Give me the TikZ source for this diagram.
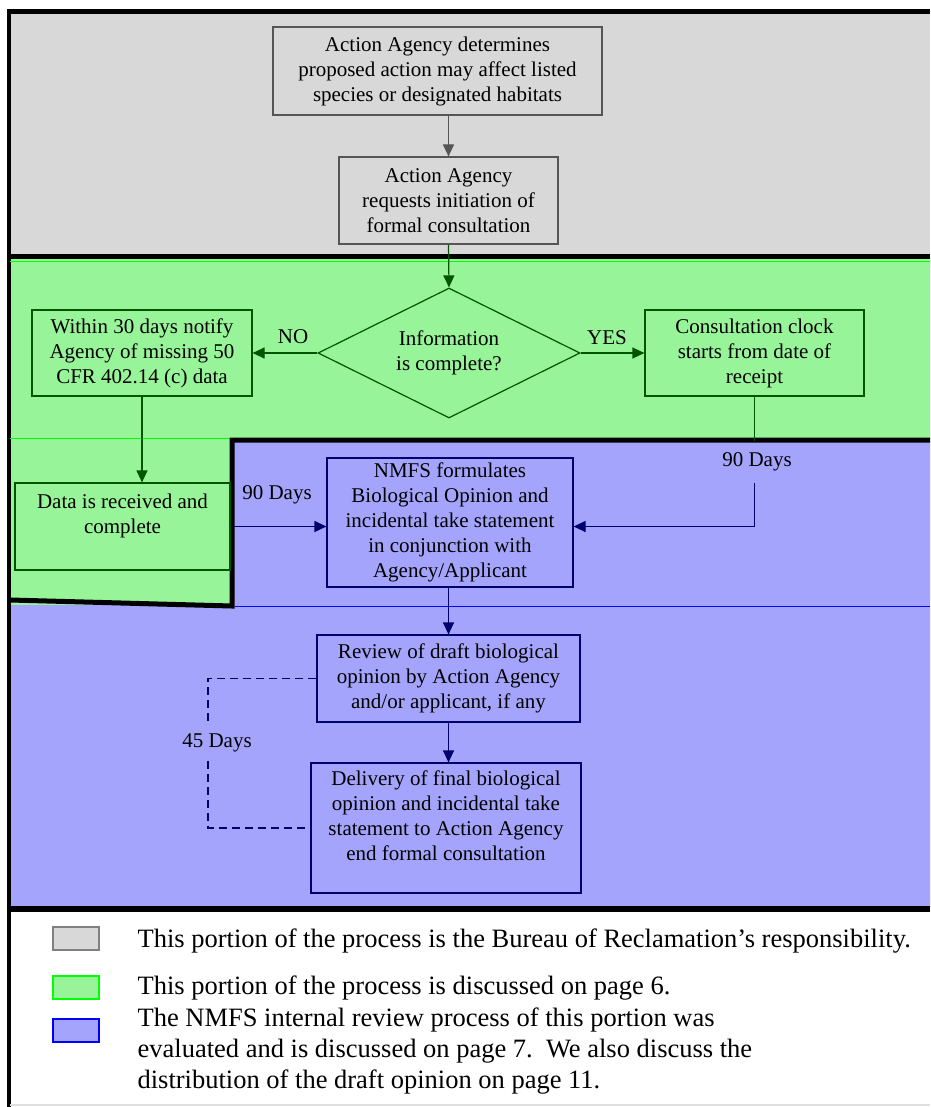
\documentclass[tikz,border=0pt]{standalone}
\usepackage{fontspec}
\setmainfont{Liberation Serif}
\usetikzlibrary{shapes.geometric,arrows.meta}
\definecolor{regray}{RGB}{216,216,216}
\definecolor{regreen}{RGB}{152,244,152}
\definecolor{reblue}{RGB}{164,164,252}
\definecolor{dkgreen}{RGB}{0,85,0}
\definecolor{dkblue}{RGB}{0,0,110}
\definecolor{dkgray}{RGB}{85,85,85}
\begin{document}
\begin{tikzpicture}[x=1pt,y=-1pt,>={Triangle[length=12pt,width=11pt]},line width=1.2pt,
  box/.style={draw,align=center,inner sep=0pt,font=\fontsize{21}{25}\selectfont},
  lbl/.style={inner sep=0pt,font=\fontsize{21}{25}\selectfont},
  leg/.style={anchor=west,align=left,inner sep=0pt,font=\fontsize{26.5}{31}\selectfont}]
	\useasboundingbox (0,0) rectangle (930,1107);
	\fill[regray] (10,12) rectangle (930,256);
	\fill[regreen] (10,256) rectangle (930,440) (10,440) rectangle (232,605);
	\fill[reblue] (232,440) rectangle (930,607) (10,605) rectangle (930,908);
	\draw[line width=5pt] (7,12)--(930,12) (10,256)--(930,256);
	\draw[line width=4pt] (9,10)--(9,1107);
	\draw[green,line width=1pt] (10,261)--(930,261) (10,438)--(230,438);
	\draw[line width=5pt] (10,600)--(232,606)--(232,440)--(930,440);
	\draw[blue,line width=1pt] (235,606)--(930,606);
	\draw[line width=6pt] (10,909)--(930,909);
	\draw[black!12,line width=1.5pt] (10,1105)--(930,1105);
	% boxes
	\node[box,draw=dkgray,minimum width=329pt,minimum height=88pt] (act) at (437.5,71) {Action Agency determines\\proposed action may affect listed\\species or designated habitats};
	\node[box,draw=dkgray,minimum width=219pt,minimum height=87pt] (req) at (448.5,200.5) {Action Agency\\requests initiation of\\formal consultation};
	\node[box,diamond,aspect=2,draw=dkgreen,minimum width=262pt,minimum height=130pt] (info) at (449,353) {Information\\is complete?};
	\node[box,draw=dkgreen,minimum width=220pt,minimum height=86pt] (miss) at (142,353) {Within 30 days notify\\Agency of missing 50\\CFR 402.14 (c) data};
	\node[box,draw=dkgreen,minimum width=219pt,minimum height=86pt] (clock) at (754.5,353) {Consultation clock\\starts from date of\\receipt};
	\node[box,draw=dkgreen,minimum width=215pt,minimum height=87pt] (recv) at (122.5,526.5) {Data is received and\\complete\\~};
	\node[box,draw=dkblue,minimum width=246pt,minimum height=129pt] (nmfs) at (450,522.5) {NMFS formulates\\Biological Opinion and\\incidental take statement\\in conjunction with\\Agency/Applicant};
	\node[box,draw=dkblue,minimum width=263pt,minimum height=87pt] (rev) at (448.5,678.5) {Review of draft biological\\opinion by Action Agency\\and/or applicant, if any};
	\node[box,draw=dkblue,minimum width=270pt,minimum height=130pt] (deliv) at (446,828) {Delivery of final biological\\opinion and incidental take\\statement to Action Agency\\end formal consultation\\~};
	% labels
	\node[lbl] (no) at (293,337) {NO};
	\node[lbl] (yes) at (607,338) {YES};
	\node[lbl] (dleft) at (277,495) {90 Days};
	\node[lbl,inner ysep=11pt] (dright) at (757,462) {90 Days};
	\node[lbl,inner ysep=8pt] (dloop) at (217,743) {45 Days};
	% connectors
	\draw[->,dkgray] (act.south -| req) -- (req.north);
	\draw[->,dkgreen] (req.south) -- (info.north);
	\draw[->,dkgreen] (info.west) -- (miss.east);
	\draw[->,dkgreen] (info.east) -- (clock.west);
	\draw[->,dkgreen] (miss.south) -- (miss.south |- recv.north);
	\draw[dkgreen] (clock.south) -- (clock.south |- dright.north);
	\draw[->,dkblue] (clock.south |- dright.south) |- (recv.east -| nmfs.east);
	\draw[->,dkblue] (recv.east) -- (recv.east -| nmfs.west);
	\draw[->,dkblue] (nmfs.south -| rev) -- (rev.north);
	\draw[->,dkblue] (rev.south) -- (rev.south |- deliv.north);
	\draw[dkblue,dash pattern=on 8pt off 5pt] (rev.west) -| ([xshift=-9pt]dloop.north);
	\draw[dkblue,dash pattern=on 8pt off 5pt] ([xshift=-9pt]dloop.south) |- (deliv.west);
	% legend
	\draw[gray,line width=1.5pt,fill=regray] (53,927) rectangle (99,950);
	\draw[green,line width=1.5pt,fill=regreen] (53,976) rectangle (99,999);
	\draw[blue,line width=1.5pt,fill=reblue] (53,1019) rectangle (99,1042);
	\node[leg] (lgray) at (137,941) {This portion of the process is the Bureau of Reclamation’s responsibility.};
	\node[leg] (lgreen) at (137,988) {This portion of the process is discussed on page 6.};
	\node[leg] (lblue) at (137,1051) {The NMFS internal review process of this portion was\\evaluated and is discussed on page 7.\ \ We also discuss the\\distribution of the draft opinion on page 11.};
\end{tikzpicture}
\end{document}
